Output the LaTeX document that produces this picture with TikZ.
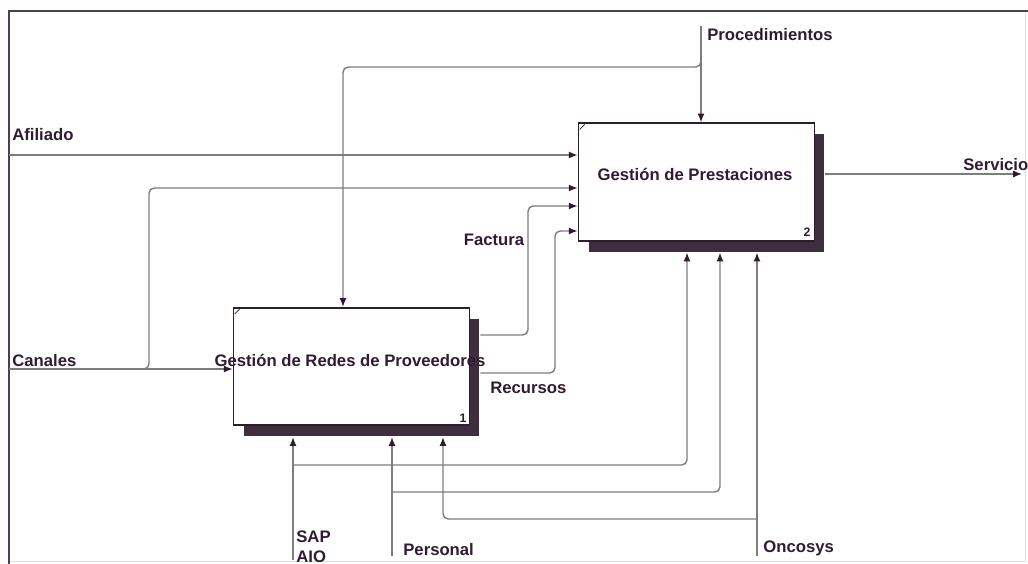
\documentclass[tikz,border=0pt]{standalone}
\usepackage{fontspec}
\setmainfont{Liberation Sans}
\usetikzlibrary{arrows.meta,positioning,calc,shadows}
\definecolor{ink}{RGB}{48,28,48}
\definecolor{wire}{RGB}{125,125,125}
\definecolor{shade}{RGB}{62,46,62}
\tikzset{
  actbox/.style={draw=ink, line width=1pt, fill=white, minimum width=4.72cm, minimum height=2.35cm,
    drop shadow={shadow xshift=0.2cm, shadow yshift=-0.22cm, fill=shade, opacity=1}},
  lbl/.style={font=\fontsize{9.5}{11.3}\selectfont\bfseries, text=ink, inner sep=0pt},
  arrow/.style={-{Latex[length=5pt, width=4pt, color=ink]}, draw=wire, line width=0.8pt},
  wirel/.style={draw=wire, line width=0.8pt},
}

\begin{document}
\begin{tikzpicture}[x=0.02cm, y=-0.02cm]
\useasboundingbox (0,0) rectangle (1028,564);

% Frame
\draw[gray!25] (9,561) -- (1025,561) -- (1025,11);
\draw[ink!85, line width=1.2pt] (9,564) -- (9,11) -- (1028,11);

% Activities
\node[actbox] (redes) at (351.5,366.5) {};
\node[actbox] (prest) at (696.5,182) {};
\coordinate (redesb) at ([yshift=-0.22cm]redes.south);
\coordinate (prestb) at ([yshift=-0.22cm]prest.south);
\coordinate (redese) at ([xshift=0.2cm]redes.east);
\coordinate (preste) at ([xshift=0.2cm]prest.east);
\draw[ink] ([shift={(2,7)}]redes.north west) -- ++(5,-5);
\draw[ink] ([shift={(2,7)}]prest.north west) -- ++(5,-5);
\node[lbl] (redest) at (350,360) {Gestión de Redes de Proveedores};
\node[lbl] (prestt) at (695,174) {Gestión de Prestaciones};
\node[lbl, font=\fontsize{7}{8}\selectfont\bfseries] (redesn) at (463,418) {1};
\node[lbl, font=\fontsize{7}{8}\selectfont\bfseries] (prestn) at (807,232) {2};

% Controls
\coordinate (proc) at (701,26);
\node[lbl, anchor=west] (procl) at (707,35) {Procedimientos};
\draw[arrow] (proc) -- (proc |- prest.north);
\draw[arrow, rounded corners=3pt] (proc |- 0,60) -- (701,67) -- (343,67) -- (343,0 |- redes.north);

% Inputs
\coordinate (afil) at (9,155);
\coordinate (cana) at (9,369);
\node[lbl, anchor=west] (afill) at (12,135) {Afiliado};
\node[lbl, anchor=west] (canal) at (12,361) {Canales};
\draw[arrow] (afil) -- (afil -| prest.west);
\draw[arrow] (cana) -- (cana -| redes.west);
\draw[arrow, rounded corners=3pt] (140,369) -- (149,369) -- (149,188) -- (prest.west |- 0,188);

% Outputs
\node[lbl] (factl) at (494,240) {Factura};
\node[lbl, anchor=west] (recl) at (490,388) {Recursos};
\draw[arrow, rounded corners=3pt] (redese |- 0,335) -- (528,335) -- (528,206) -- (prest.west |- 0,206);
\draw[arrow, rounded corners=3pt] (redese |- 0,373) -- (555,373) -- (555,231) -- (prest.west |- 0,231);
\coordinate (serv) at (1022,174);
\node[lbl, anchor=west] (servl) at (963,165) {Servicio};
\draw[arrow] (preste |- serv) -- (serv);

% Mechanisms
\coordinate (sap) at (293,560);
\coordinate (pers) at (392,556);
\coordinate (onco) at (757,556);
\node[lbl, anchor=west, align=left] (sapl) at (296,547) {SAP\\AIO};
\node[lbl, anchor=west] (persl) at (403,550) {Personal};
\node[lbl, anchor=west] (oncol) at (763,548) {Oncosys};
\draw[arrow] (sap) -- (sap |- redesb);
\draw[arrow, rounded corners=3pt] (sap |- 0,465) -- (687,465) -- (687,0 |- prestb);
\draw[arrow] (pers) -- (pers |- redesb);
\draw[arrow, rounded corners=3pt] (pers |- 0,492) -- (720,492) -- (720,0 |- prestb);
\draw[arrow] (onco) -- (onco |- prestb);
\draw[arrow, rounded corners=3pt] (onco |- 0,519) -- (443,519) -- (443,0 |- redesb);

\end{tikzpicture}
\end{document}
